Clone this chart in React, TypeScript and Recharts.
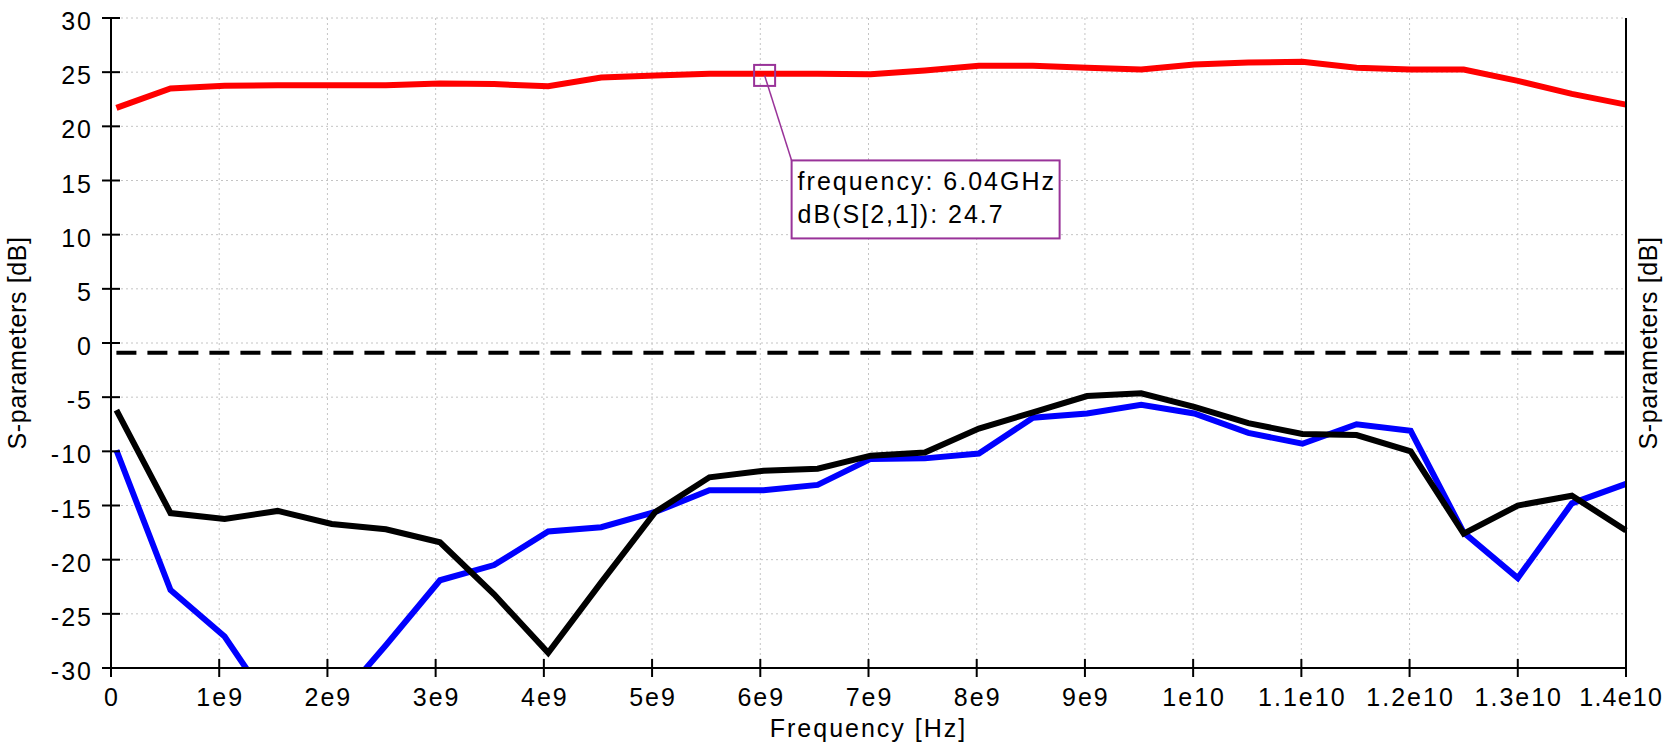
import { LineChart, Line, XAxis, YAxis, CartesianGrid, ReferenceLine, ReferenceDot } from "recharts";

// sweep points, GHz
const FREQ_GHZ = [
  0.05, 0.55, 1.05, 1.54, 2.04, 2.54, 3.04, 3.54, 4.04, 4.53, 5.03, 5.53, 6.03, 6.53, 7.02,
  7.52, 8.02, 8.52, 9.02, 9.52, 10.01, 10.51, 11.01, 11.51, 12.01, 12.5, 13.0, 13.5, 14.0,
];

// dB(S[2,1]) - red
const S21_DB = [
  21.7, 23.5, 23.75, 23.8, 23.8, 23.8, 23.95, 23.9, 23.7, 24.5, 24.7, 24.85, 24.85, 24.85, 24.8,
  25.15, 25.6, 25.6, 25.4, 25.25, 25.7, 25.9, 25.95, 25.4, 25.25, 25.25, 24.2, 23.0, 22.0,
];

// dB(S[1,1]) - blue
const S11_DB = [
  -9.9, -22.8, -27.1, -34.3, -33.7, -27.9, -21.9, -20.5, -17.4, -17.0, -15.6, -13.6, -13.6, -13.1, -10.7,
  -10.65, -10.2, -6.9, -6.5, -5.7, -6.5, -8.3, -9.3, -7.5, -8.1, -17.5, -21.7, -14.8, -13.0,
];

// dB(S[2,2]) - black
const S22_DB = [
  -6.2, -15.7, -16.25, -15.5, -16.7, -17.2, -18.4, -23.2, -28.6, -22.1, -15.6, -12.4, -11.8, -11.6, -10.4,
  -10.1, -7.9, -6.4, -4.9, -4.65, -5.9, -7.4, -8.4, -8.5, -10.0, -17.6, -15.0, -14.1, -17.3,
];

// dashed black level (dB) and its span
const DASHED_DB = -0.9;
const DASHED_SPAN = [0.05, 14.0];

const X_TICKS = [0, 1, 2, 3, 4, 5, 6, 7, 8, 9, 10, 11, 12, 13, 14];
const Y_TICKS = [-30, -25, -20, -15, -10, -5, 0, 5, 10, 15, 20, 25, 30];

const MARKER_FREQ = 6.04;
const MARKER_DB = 24.7;
const MARKER_LINES = ["frequency: 6.04GHz", "dB(S[2,1]): 24.7"];

const FONT = "'Liberation Sans', Arial, sans-serif";
const PURPLE = "#993399";
const textStyle = { fontFamily: FONT, fontSize: 25, letterSpacing: 2, fill: "#000" };
const yLabelStyle = { ...textStyle, letterSpacing: 0.6 };

const data = FREQ_GHZ.map((f, i) => ({ f, s21: S21_DB[i], s11: S11_DB[i], s22: S22_DB[i] }));

const fmtHz = (v: number) => (v === 0 ? "0" : v < 10 ? `${v}e9` : `${v / 10}e10`);

function XTick(props: any) {
  const { x, y, payload } = props;
  // last label sits against the right edge, like the original
  const last = payload.value === X_TICKS[X_TICKS.length - 1];
  return (
    <g>
      <line x1={x} x2={x} y1={y - 9} y2={y + 9} stroke="#000" strokeWidth={2} />
      <text x={last ? 1663 : x + 1} y={y + 38} textAnchor={last ? "end" : "middle"} style={last ? { ...textStyle, letterSpacing: 1.2 } : textStyle}>
        {fmtHz(payload.value)}
      </text>
    </g>
  );
}

function YTick(props: any) {
  const { x, y, payload } = props;
  return (
    <g>
      <line x1={x - 9} x2={x + 9} y1={y} y2={y} stroke="#000" strokeWidth={2} />
      <text x={x - 18} y={y + 12} textAnchor="end" style={textStyle}>
        {payload.value}
      </text>
    </g>
  );
}

function MarkerShape(props: any) {
  const { cx, cy } = props;
  if (cx == null || cy == null) return null;
  return (
    <g>
      <rect x={cx - 10.5} y={cy - 10.5} width={21} height={21} fill="none" stroke={PURPLE} strokeWidth={2} />
      <line x1={cx} y1={cy} x2={cx + 27} y2={cy + 85} stroke={PURPLE} strokeWidth={1.5} />
      <rect x={cx + 27} y={cy + 85} width={268} height={78} fill="#fff" stroke={PURPLE} strokeWidth={2} />
      {MARKER_LINES.map((t, i) => (
        <text key={i} x={cx + 33} y={cy + 115 + i * 33} style={textStyle}>
          {t}
        </text>
      ))}
    </g>
  );
}

export default function App() {
  return (
    <div style={{ position: "absolute", left: 0, top: 0, width: 1664, height: 748, background: "#fff" }}>
      <LineChart width={1664} height={748} data={data} margin={{ top: 18, right: 0, bottom: 0, left: 0 }}>
        <CartesianGrid stroke="#c4c4c4" strokeDasharray="2 3" />
        <XAxis
          dataKey="f"
          type="number"
          domain={[0, 14]}
          ticks={X_TICKS}
          height={80}
          tickSize={0}
          tickMargin={0}
          tickLine={false}
          tick={<XTick />}
          axisLine={{ stroke: "#000", strokeWidth: 2 }}
          label={{
            content: (p: any) => {
              const vb = p.viewBox;
              return (
                <text x={vb.x + vb.width / 2} y={vb.y + 69} textAnchor="middle" style={textStyle}>
                  Frequency [Hz]
                </text>
              );
            },
          }}
        />
        <XAxis
          xAxisId="top"
          orientation="top"
          type="number"
          domain={[0, 14]}
          height={0}
          tick={false}
          tickLine={false}
          axisLine={{ stroke: "#000", strokeWidth: 2 }}
        />
        <YAxis
          type="number"
          domain={[-30, 30]}
          ticks={Y_TICKS}
          allowDataOverflow
          width={111}
          tickSize={0}
          tickMargin={0}
          tickLine={false}
          tick={<YTick />}
          axisLine={{ stroke: "#000", strokeWidth: 2 }}
          label={{
            content: (p: any) => {
              const vb = p.viewBox;
              const cy = vb.y + vb.height / 2;
              const x = vb.x + 26;
              return (
                <text x={x} y={cy} textAnchor="middle" transform={`rotate(-90 ${x} ${cy})`} style={yLabelStyle}>
                  S-parameters [dB]
                </text>
              );
            },
          }}
        />
        <YAxis
          yAxisId="right"
          orientation="right"
          type="number"
          domain={[-30, 30]}
          width={38}
          tick={false}
          tickLine={false}
          axisLine={{ stroke: "#000", strokeWidth: 2 }}
          label={{
            content: (p: any) => {
              const vb = p.viewBox;
              const cy = vb.y + vb.height / 2;
              const x = vb.x + 31;
              return (
                <text x={x} y={cy} textAnchor="middle" transform={`rotate(-90 ${x} ${cy})`} style={yLabelStyle}>
                  S-parameters [dB]
                </text>
              );
            },
          }}
        />
        <ReferenceLine
          segment={[
            { x: DASHED_SPAN[0], y: DASHED_DB },
            { x: DASHED_SPAN[1], y: DASHED_DB },
          ]}
          stroke="#000"
          strokeWidth={4}
          strokeDasharray="20 11"
        />
        <Line type="linear" dataKey="s11" stroke="#0000ff" strokeWidth={6} dot={false} isAnimationActive={false} />
        <Line type="linear" dataKey="s22" stroke="#000000" strokeWidth={6} dot={false} isAnimationActive={false} />
        <Line type="linear" dataKey="s21" stroke="#ff0000" strokeWidth={6} dot={false} isAnimationActive={false} />
        <ReferenceDot x={MARKER_FREQ} y={MARKER_DB} r={10} shape={MarkerShape} ifOverflow="visible" />
      </LineChart>
    </div>
  );
}
